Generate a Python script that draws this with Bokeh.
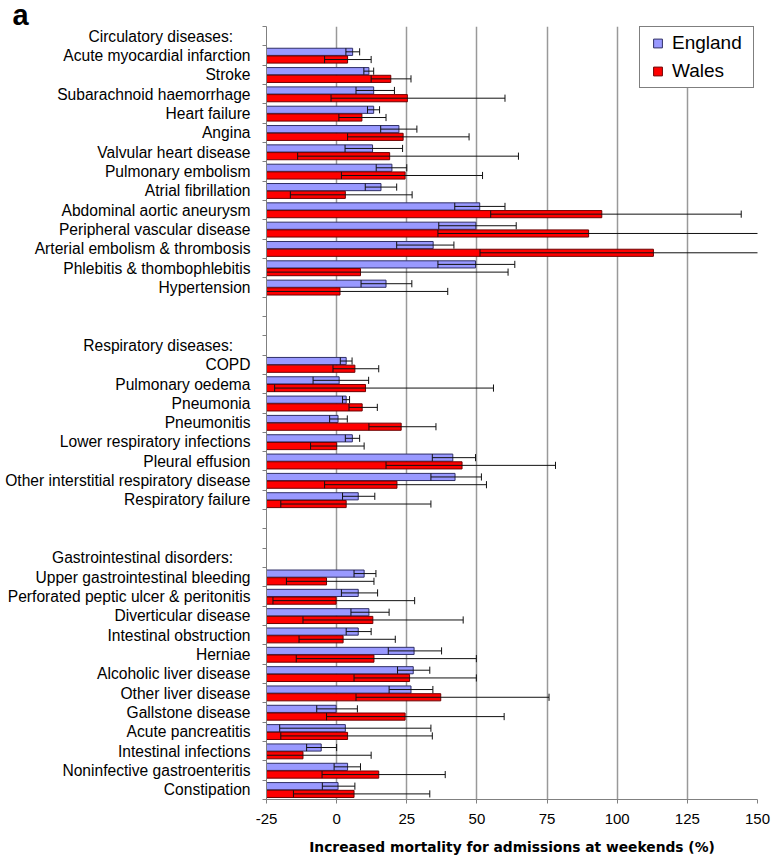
from bokeh.plotting import figure
from bokeh.models import ColumnDataSource, Range1d, FixedTicker, Legend, LegendItem
from bokeh.embed import file_html
from bokeh.resources import INLINE

# ---------------- data ----------------
group_titles = ["Circulatory diseases:", "Respiratory diseases:", "Gastrointestinal disorders:"]

circ_labels = ["Acute myocardial infarction", "Stroke", "Subarachnoid haemorrhage", "Heart failure",
               "Angina", "Valvular heart disease", "Pulmonary embolism", "Atrial fibrillation",
               "Abdominal aortic aneurysm", "Peripheral vascular disease",
               "Arterial embolism & thrombosis", "Phlebitis & thombophlebitis", "Hypertension"]
circ_eng    = [5.7, 11.5, 13.2, 13.2, 22.2, 12.8, 19.7, 15.8, 51.0, 49.6, 34.4, 49.5, 17.6]
circ_eng_lo = [3.3, 9.7, 6.9, 11.0, 15.7, 3.0, 14.1, 10.2, 42.1, 36.4, 21.4, 36.1, 8.7]
circ_eng_hi = [8.2, 13.2, 20.6, 15.3, 28.6, 23.5, 25.0, 21.4, 60.0, 64.0, 41.8, 63.5, 26.8]
circ_wal    = [3.9, 19.3, 25.2, 9.0, 23.7, 18.9, 24.4, 3.1, 94.5, 89.8, 112.9, 8.5, 1.2]
circ_wal_lo = [-4.3, 12.3, -2.0, 0.8, 3.9, -13.9, 1.7, -16.5, 54.9, 36.1, 51.1, -30.0, -30.0]
circ_wal_hi = [12.3, 26.5, 60.0, 17.6, 47.2, 64.8, 52.0, 26.9, 144.2, 165.0, 185.0, 61.1, 39.6]

resp_labels = ["COPD", "Pulmonary oedema", "Pneumonia", "Pneumonitis", "Lower respiratory infections",
               "Pleural effusion", "Other interstitial respiratory disease", "Respiratory failure"]
resp_eng    = [3.4, 0.9, 3.4, 0.5, 5.6, 41.4, 42.2, 7.7]
resp_eng_lo = [1.3, -8.4, 2.1, -2.5, 3.1, 34.1, 33.6, 2.1]
resp_eng_hi = [5.5, 11.4, 4.6, 3.8, 8.2, 49.5, 51.6, 13.6]
resp_wal    = [6.5, 10.3, 9.1, 23.0, 0.0, 44.7, 21.5, 3.4]
resp_wal_lo = [-1.3, -22.1, 4.4, 11.5, -9.3, 17.6, -4.3, -19.9]
resp_wal_hi = [15.0, 55.9, 14.5, 35.4, 9.8, 78.0, 53.4, 33.6]

gi_labels = ["Upper gastrointestinal bleeding", "Perforated peptic ulcer & peritonitis",
             "Diverticular disease", "Intestinal obstruction", "Herniae", "Alcoholic liver disease",
             "Other liver disease", "Gallstone disease", "Acute pancreatitis", "Intestinal infections",
             "Noninfective gastroenteritis", "Constipation"]
gi_eng    = [9.8, 7.7, 11.5, 7.7, 27.6, 27.3, 26.5, -0.2, 3.1, -5.5, 3.9, 0.5]
gi_eng_lo = [6.2, 1.7, 5.1, 3.4, 18.4, 21.7, 18.7, -7.1, -20.3, -10.7, -0.9, -5.1]
gi_eng_hi = [14.0, 14.6, 18.7, 12.3, 37.4, 33.2, 34.3, 7.4, 33.6, 0.0, 8.5, 6.5]
gi_wal    = [-3.6, -0.2, 12.9, 2.3, 13.3, 26.0, 37.1, 24.4, 3.9, -12.0, 15.0, 6.2]
gi_wal_lo = [-17.9, -22.7, -12.0, -13.4, -14.4, 6.2, 6.9, -3.6, -19.9, -35.0, -5.2, -15.4]
gi_wal_hi = [13.3, 27.8, 45.1, 20.9, 49.8, 49.8, 75.7, 59.7, 34.1, 12.3, 38.7, 33.2]

x_ticks = [-25, 0, 25, 50, 75, 100, 125, 150]
x_tick_labels = ["-25", "0", "25", "50", "75", "100", "125", "150"]
series_names = ["England", "Wales"]
x_title = "Increased mortality for admissions at weekends (%)"
panel_letter = "a"

# ---------------- layout of rows ----------------
groups = [
    (circ_labels, circ_eng, circ_eng_lo, circ_eng_hi, circ_wal, circ_wal_lo, circ_wal_hi),
    (resp_labels, resp_eng, resp_eng_lo, resp_eng_hi, resp_wal, resp_wal_lo, resp_wal_hi),
    (gi_labels, gi_eng, gi_eng_lo, gi_eng_hi, gi_wal, gi_wal_lo, gi_wal_hi),
]
BLANKS = 2
rows = []  # (label, data tuple or None)
for gi, (title, g) in enumerate(zip(group_titles, groups)):
    if gi > 0:
        rows += [("", None)] * BLANKS
    rows.append((title + "\u00a0" * 4, None))
    for k in range(len(g[0])):
        rows.append((g[0][k], tuple(s[k] for s in g[1:])))
N = len(rows)

row_y = [N - 1 - r for r in range(N)]
BAR_H = 0.37
OFF_E, OFF_W = 0.19, -0.21
XMIN, XMAX = x_ticks[0], x_ticks[-1]

cols = {k: [] for k in ["ye", "yw", "e", "elo", "ehi", "w", "wlo", "whi"]}
for (lab, d), y in zip(rows, row_y):
    if d is None:
        continue
    cols["ye"].append(y + OFF_E)
    cols["yw"].append(y + OFF_W)
    for key, v in zip(["e", "elo", "ehi", "w", "wlo", "whi"], d):
        cols[key].append(v)
cols["base"] = [XMIN] * len(cols["ye"])
for pre in ["ye", "yw"]:
    cols[pre + "0"] = [v - BAR_H / 2 for v in cols[pre]]
    cols[pre + "1"] = [v + BAR_H / 2 for v in cols[pre]]
src = ColumnDataSource(cols)

FONT = "Liberation Sans"
p = figure(width=778, height=858, output_backend="svg", toolbar_location=None,
           x_range=Range1d(XMIN, XMAX), y_range=Range1d(-0.5, N - 0.5),
           min_border_left=266, min_border_right=21, min_border_top=26, min_border_bottom=59)
p.outline_line_color = None
p.ygrid.visible = False
p.xgrid.ticker = FixedTicker(ticks=x_ticks[1:])
p.xgrid.grid_line_color = "#999999"
p.xgrid.grid_line_width = 1.5

# panel letter as plot title, pushed to the far left
p.title.text = panel_letter
p.title.align = "left"
p.title.offset = -254
p.title.standoff = -8
p.title.text_font = FONT
p.title.text_font_style = "bold"
p.title.text_font_size = "29px"
p.title.text_color = "black"

ENG_FILL, ENG_LINE = "#9999ff", "#2f2f66"
WAL_FILL, WAL_LINE = "#ff0000", "#6e0000"
ERR = "#111111"

r_e = p.hbar(y="ye", left="base", right="e", height=BAR_H, source=src,
             fill_color=ENG_FILL, line_color=ENG_LINE, line_width=1)
r_w = p.hbar(y="yw", left="base", right="w", height=BAR_H, source=src,
             fill_color=WAL_FILL, line_color=WAL_LINE, line_width=1)

for y, lo, hi in [("ye", "elo", "ehi"), ("yw", "wlo", "whi")]:
    p.segment(x0=lo, x1=hi, y0=y, y1=y, source=src, line_color=ERR, line_width=1)
    p.segment(x0=lo, x1=lo, y0=y + "0", y1=y + "1", source=src, line_color=ERR, line_width=1)
    p.segment(x0=hi, x1=hi, y0=y + "0", y1=y + "1", source=src, line_color=ERR, line_width=1)

# legend-only square markers (a single undefined point each, never drawn in the frame)
nan = float("nan")
lg_e = p.scatter(x=[nan], y=[nan], marker="square", fill_color=ENG_FILL, line_color=ENG_LINE, line_width=1)
lg_w = p.scatter(x=[nan], y=[nan], marker="square", fill_color=WAL_FILL, line_color=WAL_LINE, line_width=1)

# x axis
xa = p.xaxis[0]
xa.ticker = FixedTicker(ticks=x_ticks, minor_ticks=[])
xa.major_label_overrides = {t: s for t, s in zip(x_ticks, x_tick_labels)}
xa.axis_line_color = "#808080"
xa.major_tick_line_color = "#808080"
xa.major_tick_out = 4
xa.major_tick_in = 0
xa.major_label_standoff = 10
xa.major_label_text_font = FONT
xa.major_label_text_font_size = "15px"
xa.major_label_text_color = "black"
xa.axis_label = x_title
xa.axis_label_text_font = "DejaVu Sans"
xa.axis_label_text_font_style = "bold"
xa.axis_label_text_font_size = "13.8px"
xa.axis_label_text_color = "black"
xa.axis_label_standoff = 12

# y axis
ya = p.yaxis[0]
label_ticks = [y for (lab, d), y in zip(rows, row_y) if lab]
ya.ticker = FixedTicker(ticks=label_ticks, minor_ticks=[k - 0.5 for k in range(N + 1)])
ya.major_label_overrides = {y: lab for (lab, d), y in zip(rows, row_y) if lab}
ya.axis_line_color = "#808080"
ya.major_tick_out = 0
ya.major_tick_in = 0
ya.minor_tick_out = 4
ya.minor_tick_in = 0
ya.minor_tick_line_color = "#808080"
ya.major_label_standoff = 12
ya.major_label_text_font = FONT
ya.major_label_text_font_size = "15.6px"
ya.major_label_text_color = "black"

legend = Legend(items=[LegendItem(label=series_names[0], renderers=[lg_e]),
                       LegendItem(label=series_names[1], renderers=[lg_w])],
                location=(373, 711))
legend.label_text_font = FONT
legend.label_text_font_size = "19px"
legend.label_text_color = "black"
legend.glyph_width = 25
legend.glyph_height = 22
legend.label_height = 22
legend.label_width = 76
legend.spacing = 6
legend.padding = 5
legend.margin = 0
legend.label_standoff = 2
legend.border_line_color = "black"
legend.border_line_width = 1.3
legend.background_fill_alpha = 1
p.add_layout(legend)

open("out.html", "w").write(file_html(p, INLINE))
